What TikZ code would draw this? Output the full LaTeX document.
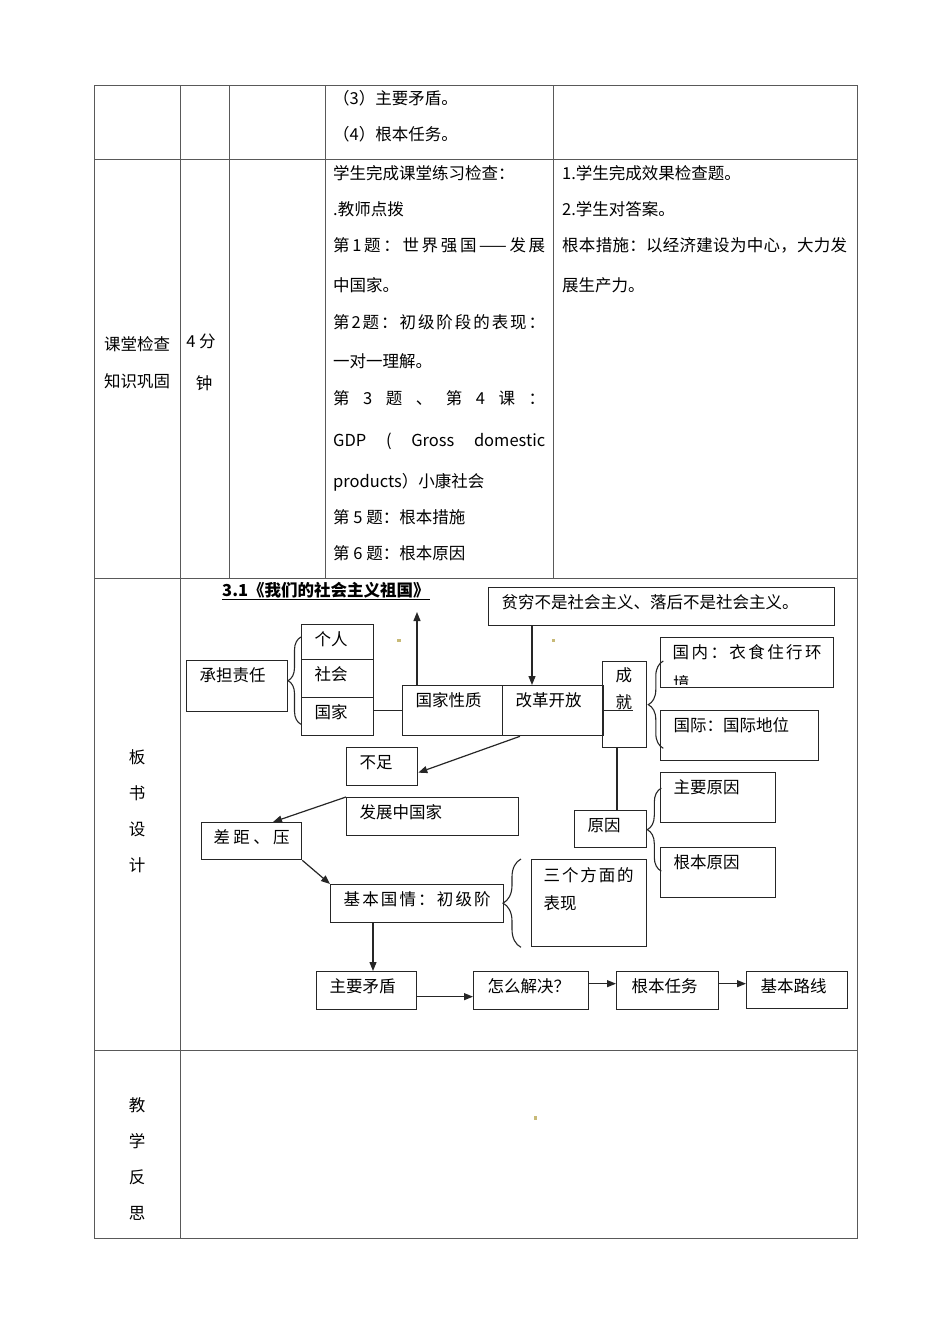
\documentclass[tikz,border=0pt]{standalone}
\usepackage{fontspec}
\setmainfont{Noto Sans CJK SC}
\usepackage{xcolor}
\usetikzlibrary{arrows.meta,decorations.pathreplacing,calc}
\definecolor{speck}{RGB}{200,186,120}
% spread the characters of one line over a given width
\def\spreadchars#1{\ifx\relax#1\else#1\hskip 0pt plus 1fil\relax\expandafter\spreadchars\fi}
\newcommand\spreadline[2]{\makebox[#1][s]{\spreadchars#2\relax\unskip}}

\begin{document}
\begin{tikzpicture}[x=1pt, y=-1pt, font=\fontsize{16.5pt}{20pt}\selectfont,
  tbl/.style={draw=black!65, line width=1pt},
  txt/.style={anchor=base west, inner sep=0pt},
  mid/.style={anchor=base, inner sep=0pt},
  bx/.style 2 args={draw=black!85, line width=1.3pt, anchor=north west, inner xsep=13pt, inner ysep=0pt,
    text height=21pt, text width=#1, text depth=#2, align=left},
  link/.style={line width=1.2pt, black!85},
  arr/.style={-{Triangle[length=9pt,width=7pt]}, line width=1.2pt, black!85},
  brc/.style={decorate, decoration={brace, amplitude=#1}, line width=1.1pt, black!85}]
\useasboundingbox (0,0) rectangle (950,1344);
% table
\draw[tbl] (94,85) rectangle (857,1238);
\foreach \y in {159,578,1050} \draw[tbl] (94,\y) -- (857,\y);
\draw[tbl] (180,85) -- (180,1238);
\foreach \x in {229,325,553} \draw[tbl] (\x,85) -- (\x,578);
% first row
\node[txt] (ra) at (333,104) {（3）主要矛盾。};
\node[txt] (rb) at (333,140) {（4）根本任务。};
% second row
\node[mid] (ka) at (137,350) {课堂检查};
\node[mid] (kb) at (137,387) {知识巩固};
\node[mid] (ta) at (201,347) {4 分};
\node[mid] (tb) at (204,389) {钟};
\node[txt] (da) at (333,179) {学生完成课堂练习检查：};
\node[txt] (db) at (333,215) {.教师点拨};
\node[txt] (dc) at (333,251) {\spreadline{212pt}{第1题：世界强国{——}发展}};
\node[txt] (dd) at (333,291) {中国家。};
\node[txt] (de) at (333,328) {\spreadline{212pt}{第2题：初级阶段的表现：}};
\node[txt] (df) at (333,367) {一对一理解。};
\node[txt] (dg) at (333,404) {\makebox[212pt][s]{第 3 题 、 第 4 课 ：}};
\node[txt] (dh) at (333,446) {\makebox[212pt][s]{GDP ( Gross domestic}};
\node[txt] (di) at (333,487) {products）小康社会};
\node[txt] (dj) at (333,523) {第 5 题：根本措施};
\node[txt] (dk) at (333,559) {第 6 题：根本原因};
\node[txt] (ea) at (562,179) {1.学生完成效果检查题。};
\node[txt] (eb) at (562,215) {2.学生对答案。};
\node[txt] (ec) at (562,251) {\spreadline{285pt}{根本措施：以经济建设为中心，大力发}};
\node[txt] (ed) at (562,291) {展生产力。};
% third and fourth row, left column
\foreach \c/\y in {板/763,书/799,设/835,计/871,教/1111,学/1147,反/1183,思/1219}
  \node[mid] at (137,\y) {\c};
% board design
\node[txt] (title) at (222,596) {\underline{\bfseries 3.1《我们的社会主义祖国》}};
\node[bx={75pt}{30pt}] (cd) at (186,660) {承担责任};
\node[bx={46pt}{14pt}] (gr) at (301,624) {个人};
\node[bx={46pt}{17pt}] (sh) at (301,659) {社会};
\node[bx={46pt}{17pt}] (gj) at (301,697) {国家};
\node[bx={74pt}{29pt}] (xz) at (402,685) {国家性质};
\node[bx={75pt}{29pt}] (gg) at (502,685) {改革开放};
\node[bx={18pt}{66pt}, text height=20pt, font=\fontsize{16.5pt}{27pt}\selectfont] (cj) at (602,661) {成\\就};
\node[bx={320pt}{17pt}] (pq) at (488,587) {贫穷不是社会主义、落后不是社会主义。};
\node[bx={149pt}{29pt}, inner xsep=12pt] (gn) at (660,637) {\spreadline{149pt}{国内：衣食住行环}};
\node[bx={132pt}{29pt}] (gv) at (660,710) {国际：国际地位};
\node[bx={45pt}{17pt}] (bz) at (346,747) {不足};
\node[bx={146pt}{17pt}] (fz) at (346,797) {发展中国家};
\node[bx={76pt}{16pt}, inner xsep=12pt] (cy) at (201,822) {\spreadline{76pt}{差距、压}};
\node[bx={147pt}{17pt}] (jb) at (330,884) {\spreadline{147pt}{基本国情：初级阶}};
\node[bx={91pt}{65pt}, inner xsep=12pt, text height=22pt, font=\fontsize{16.5pt}{28pt}\selectfont] (sg) at (531,859) {\spreadline{90pt}{三个方面的}\\表现};
\node[bx={46pt}{16pt}] (yy) at (574,810) {原因};
\node[bx={89pt}{29pt}] (zy) at (660,772) {主要原因};
\node[bx={89pt}{29pt}] (gy) at (660,847) {根本原因};
\node[bx={74pt}{17pt}] (zm) at (316,971) {主要矛盾};
\node[bx={87pt}{17pt}, inner xsep=14pt] (zj) at (473,971) {怎么解决？};
\node[bx={72pt}{17pt}, inner xsep=15pt] (rw) at (616,971) {根本任务};
\node[bx={73pt}{16pt}, inner xsep=14pt] (lx) at (746,971) {基本路线};
% second line of the first box on the right, cut off by its frame
\begin{scope}
\clip (gn.north west) rectangle ([yshift=4pt]gn.south east);
\node[txt] (gnj) at (673,689) {境};
\end{scope}
% connectors
\coordinate (top) at (417,612);
\draw[arr] ([xshift=15pt]xz.north west) -- (top);
\draw[link] (gj.east |- xz.west) -- (xz.west);
\draw[arr] ([xshift=30pt]gg.north west |- pq.south) -- ([xshift=30pt]gg.north west);
\draw[link] (gg.east) -- ++(29,0);
\draw[link] ([xshift=15pt]cj.south west) -- ([xshift=15pt]cj.south west |- yy.north);
\draw[arr] ([xshift=18pt]gg.south west) -- ([yshift=-6pt]bz.east);
\draw[arr] (fz.north west) -- ([xshift=72pt]cy.north west);
\draw[arr] (cy.south east) -- (jb.north west);
\draw[arr] ([xshift=57pt]zm.north west |- jb.south) -- ([xshift=57pt]zm.north west);
\draw[arr] ([yshift=-6pt]zm.east) -- ([yshift=-6pt]zm.east -| zj.west);
\draw[arr] ([yshift=7pt]zj.east) -- ([yshift=7pt]zj.east -| rw.west);
\draw[arr] ([yshift=7pt]rw.east) -- ([yshift=7pt]rw.east -| lx.west);
% braces
\draw[brc=13pt] ([yshift=12pt]gj.south west) -- ([yshift=-13pt]gr.north west);
\draw[brc=15pt] ([xshift=16pt]cj.south east) -- ([xshift=16pt]cj.north east);
\draw[brc=14pt] ([xshift=14pt,yshift=-42pt]yy.east) -- ([xshift=14pt,yshift=41pt]yy.east);
\draw[brc=18pt] ([xshift=-10pt]sg.south west) -- ([xshift=-10pt]sg.north west);
% specks
\fill[speck] (397,639) rectangle (401,642);
\fill[speck] (552,639) rectangle (555,642);
\fill[speck] (534,1116) rectangle (537,1120);
\end{tikzpicture}
\end{document}
